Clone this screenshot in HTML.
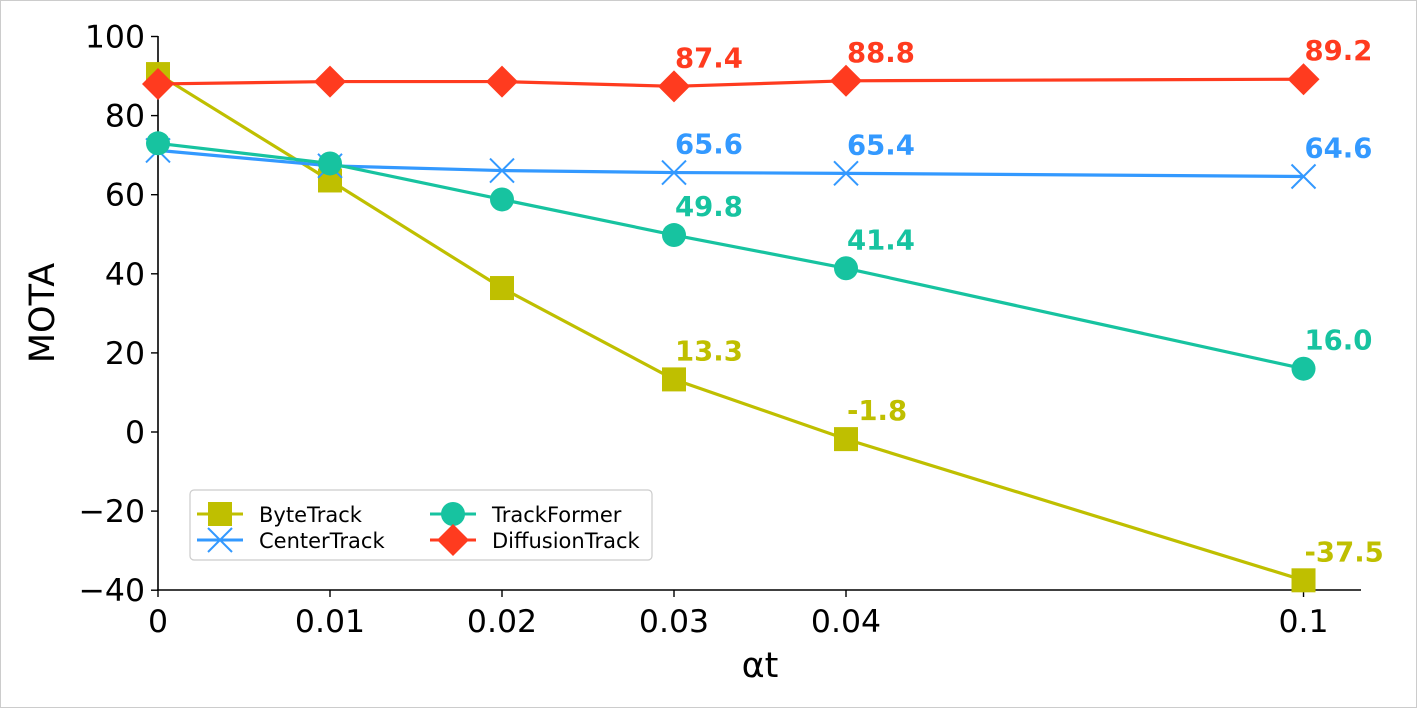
<!DOCTYPE html>
<html><head><meta charset="utf-8"><style>
body{margin:0;background:#fff;}
svg{display:block;font-family:"DejaVu Sans","Liberation Sans",sans-serif;}
</style></head><body>
<svg id="chart" width="1417" height="708" viewBox="0 0 1417 708" xmlns="http://www.w3.org/2000/svg">
<rect x="0.5" y="0.5" width="1416" height="707" fill="#fff" stroke="#ccc"/>
<g id="plot"></g>
</svg>
<script>
const xLabels=["0","0.01","0.02","0.03","0.04","0.1"];
const xPos=[0,1,2,3,4,6.66];
const yTicks=[-40,-20,0,20,40,60,80,100];
const byteTrack=[90.5,63.6,36.4,13.3,-1.8,-37.5];
const centerTrack=[71.2,67.3,66.1,65.6,65.4,64.6];
const trackFormer=[73.0,67.9,58.8,49.8,41.4,16.0];
const diffusionTrack=[88.0,88.6,88.6,87.4,88.8,89.2];
const labelIdx=[3,4,5];

const NS="http://www.w3.org/2000/svg";
const g=document.getElementById('plot');
const X=v=>158+v*172;
const Y=v=>432-v*3.955;
function el(t,a,txt){const e=document.createElementNS(NS,t);for(const k in a)e.setAttribute(k,a[k]);if(txt!==undefined)e.textContent=txt;g.appendChild(e);return e;}

let e;
e=el('line',{x1:158,y1:36,x2:158,y2:590,stroke:'#000','stroke-width':1.6});


e=el('line',{x1:157,y1:590,x2:1361,y2:590,stroke:'#000','stroke-width':1.6});


yTicks.forEach(t=>{
  el('line',{x1:151,y1:Y(t),x2:158,y2:Y(t),stroke:'#000','stroke-width':1.4});
  e=el('text',{x:145,y:Y(t)+11,'text-anchor':'end','font-size':31.5},t<0?'\u2212'+(-t):String(t));
  
  
});
xLabels.forEach((l,i)=>{
  el('line',{x1:X(xPos[i]),y1:590,x2:X(xPos[i]),y2:597,stroke:'#000','stroke-width':1.4});
  e=el('text',{x:X(xPos[i]),y:632,'text-anchor':'middle','font-size':31.5},l);
  
  
});
e=el('text',{x:760,y:677,'text-anchor':'middle','font-size':35},'\u03b1t');


e=el('text',{x:0,y:0,'text-anchor':'middle','font-size':35,transform:'translate(54,313) rotate(-90)'},'MOTA');



function marker(type,x,y,c){
  if(type==='sq') return el('rect',{x:x-12,y:y-12,width:24,height:24,fill:c});
  if(type==='x'){const gg=document.createElementNS(NS,'path');gg.setAttribute('d',`M${x-12} ${y-12}L${x+12} ${y+12}M${x-12} ${y+12}L${x+12} ${y-12}`);gg.setAttribute('stroke',c);gg.setAttribute('stroke-width',2);g.appendChild(gg);return gg;}
  if(type==='o') return el('circle',{cx:x,cy:y,r:12,fill:c});
  return el('path',{d:`M${x} ${y-16}L${x+16} ${y}L${x} ${y+16}L${x-16} ${y}Z`,fill:c});
}
const series=[
 {name:'ByteTrack',d:byteTrack,c:'#bfbf00',m:'sq'},
 {name:'CenterTrack',d:centerTrack,c:'#3399ff',m:'x'},
 {name:'TrackFormer',d:trackFormer,c:'#17c3a0',m:'o'},
 {name:'DiffusionTrack',d:diffusionTrack,c:'#ff3b1f',m:'d'}];
series.forEach(s=>{
  const pts=s.d.map((v,i)=>X(xPos[i])+','+Y(v)).join(' ');
  e=el('polyline',{points:pts,fill:'none',stroke:s.c,'stroke-width':3.2});
  
  
  s.d.forEach((v,i)=>{
    e=marker(s.m,X(xPos[i]),Y(v),s.c);
    
    
  });
  labelIdx.forEach(i=>{
    e=el('text',{x:X(xPos[i])+1,y:Y(s.d[i])-19,'font-size':27.5,'font-weight':'bold',fill:s.c},s.d[i].toFixed(1));
    
    
  });
});
// legend
e=el('rect',{x:190,y:490,width:462,height:70,rx:4,fill:'#fff',stroke:'#ccc','stroke-width':1.2});


const lp=[[197,514],[197,540],[430,514],[430,540]];
series.forEach((s,i)=>{
  const [x,y]=lp[i];
  el('line',{x1:x,y1:y,x2:x+46,y2:y,stroke:s.c,'stroke-width':3});
  marker(s.m,x+23,y,s.c);
  e=el('text',{x:x+62,y:y+8,'font-size':21},s.name);
  
  
});
</script>
</body></html>
